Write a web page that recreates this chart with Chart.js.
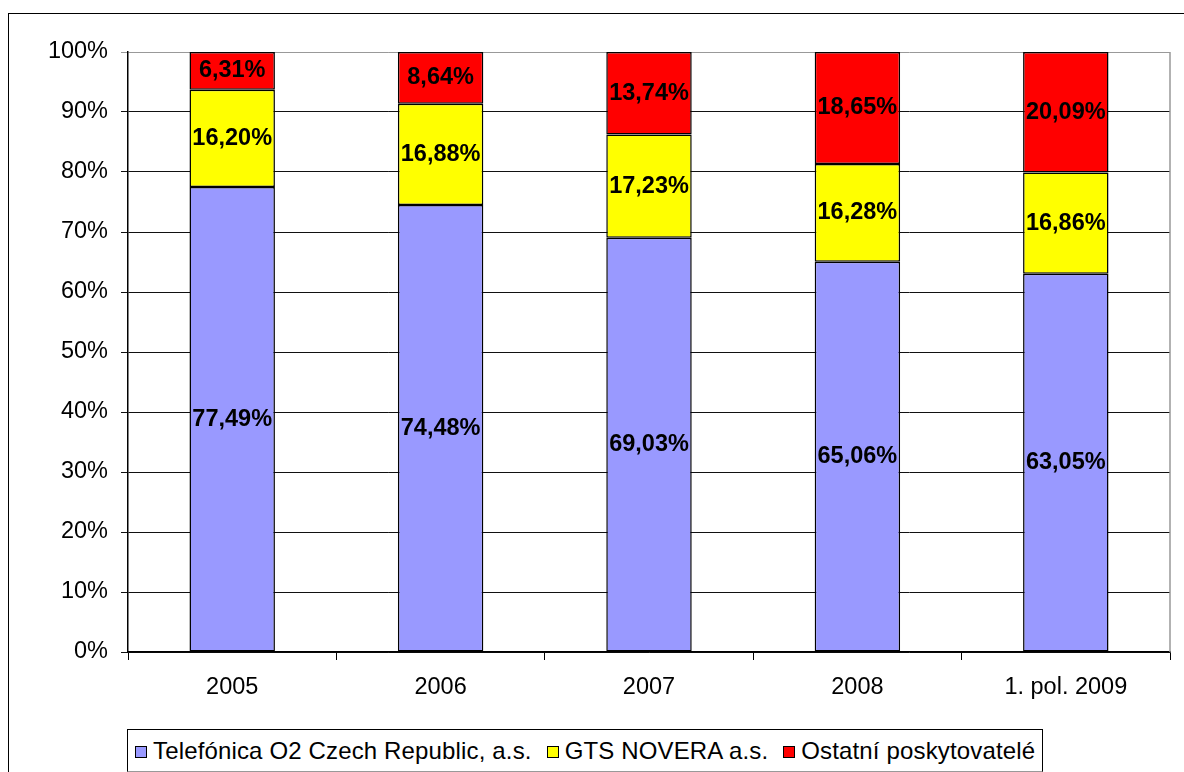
<!DOCTYPE html>
<html>
<head>
<meta charset="utf-8">
<script src="https://cdn.jsdelivr.net/npm/chart.js@4"></script>
<style>
    html, body { margin: 0; padding: 0; background: #fff; overflow: hidden; }
    #wrap { position: relative; width: 1184px; height: 772px; }
    #frame {
        position: absolute; left: 8px; top: 13px; width: 1200px; height: 800px;
        border: 1.5px solid #000; box-sizing: border-box;
    }
    #chart { position: absolute; left: 0; top: 0; }
    #legend {
        position: absolute; left: 127px; top: 729px; width: 916px; height: 43px;
        border: 1px solid #000; border-bottom-color: #999; box-sizing: border-box; background: #fff;
        display: flex; justify-content: flex-start; align-items: center; padding-left: 7px;
        font: 24px "Liberation Sans", Arial, sans-serif; color: #000; white-space: nowrap;
        letter-spacing: 0.15px;
    }
    .item { display: flex; align-items: center; margin-right: 15px; }
    .box { width: 10px; height: 10px; border: 1.5px solid #000; margin-right: 6px; margin-top: 2px; }
</style>
</head>
<body>
<div id="wrap">
    <div id="frame"></div>
    <canvas id="chart" width="1184" height="772"></canvas>
    <div id="legend"></div>
</div>
<script>
// Kategorie a hodnoty (podíly v %)
const CATEGORIES = ['2005', '2006', '2007', '2008', '1. pol. 2009'];
const SERIES_NAMES = ['Telefónica O2 Czech Republic, a.s.', 'GTS NOVERA a.s.', 'Ostatní poskytovatelé'];
const TELEFONICA = [77.49, 74.48, 69.03, 65.06, 63.05];
const GTS = [16.20, 16.88, 17.23, 16.28, 16.86];
const OSTATNI = [6.31, 8.64, 13.74, 18.65, 20.09];
const Y_TICKS = [0, 10, 20, 30, 40, 50, 60, 70, 80, 90, 100];

const COLORS = ['#9999FF', '#FFFF00', '#FF0000'];
const FONT = "'Liberation Sans', Arial, sans-serif";

Chart.defaults.color = '#000';
Chart.defaults.font.family = FONT;
Chart.defaults.font.size = 23.5;

// popisky hodnot uprostřed segmentů
const valueLabels = {
    id: 'valueLabels',
    afterDatasetsDraw(chart) {
        const ctx = chart.ctx;
        ctx.save();
        ctx.font = 'bold 23.5px ' + FONT;
        ctx.fillStyle = '#000';
        ctx.textAlign = 'center';
        ctx.textBaseline = 'middle';
        chart.data.datasets.forEach((ds, i) => {
            chart.getDatasetMeta(i).data.forEach((bar, j) => {
                const txt = ds.data[j].toFixed(2).replace('.', ',') + '%';
                ctx.fillText(txt, bar.x, (bar.y + bar.base) / 2);
            });
        });
        ctx.restore();
    }
};

// šedý rámeček vpravo
const plotFrame = {
    id: 'plotFrame',
    beforeDatasetsDraw(chart) {
        const a = chart.chartArea, ctx = chart.ctx;
        ctx.save();
        ctx.strokeStyle = '#999';
        ctx.lineWidth = 1.5;
        ctx.beginPath();
        ctx.moveTo(a.right, a.top);
        ctx.lineTo(a.right, a.bottom);
        ctx.stroke();
        ctx.restore();
    }
};

const datasets = [TELEFONICA, GTS, OSTATNI].map((data, i) => ({
    label: SERIES_NAMES[i],
    data,
    backgroundColor: COLORS[i],
    borderColor: '#000',
    borderWidth: 1.5,
    borderSkipped: false,
    categoryPercentage: 1,
    barPercentage: 0.41
}));

new Chart(document.getElementById('chart'), {
    type: 'bar',
    data: { labels: CATEGORIES, datasets },
    options: {
        responsive: false,
        animation: false,
        layout: { padding: { top: 52, right: 14, left: 0, bottom: 0 } },
        plugins: { legend: { display: false }, tooltip: { enabled: false } },
        scales: {
            x: {
                stacked: true,
                afterFit: s => { s.height = 120; },
                grid: {
                    offset: true, drawOnChartArea: false, drawTicks: true,
                    tickLength: 8, color: '#000', lineWidth: 1
                },
                border: { color: '#000', width: 1.5 },
                ticks: { padding: 13, color: '#000' }
            },
            y: {
                stacked: true,
                min: 0,
                max: 100,
                afterFit: s => { s.width = 128; },
                afterBuildTicks: s => { s.ticks = Y_TICKS.map(v => ({ value: v })); },
                grid: {
                    tickLength: 7,
                    color: c => c.tick && c.tick.value === 100 ? '#999' : '#111',
                    lineWidth: 1
                },
                border: { color: '#000', width: 1.5 },
                ticks: { padding: 13, color: '#000', callback: v => v + '%' }
            }
        }
    },
    plugins: [plotFrame, valueLabels]
});

// legenda
const legend = document.getElementById('legend');
SERIES_NAMES.forEach((name, i) => {
    const item = document.createElement('div');
    item.className = 'item';
    const box = document.createElement('span');
    box.className = 'box';
    box.style.background = COLORS[i];
    const txt = document.createElement('span');
    txt.textContent = name;
    item.appendChild(box);
    item.appendChild(txt);
    legend.appendChild(item);
});
</script>
</body>
</html>
